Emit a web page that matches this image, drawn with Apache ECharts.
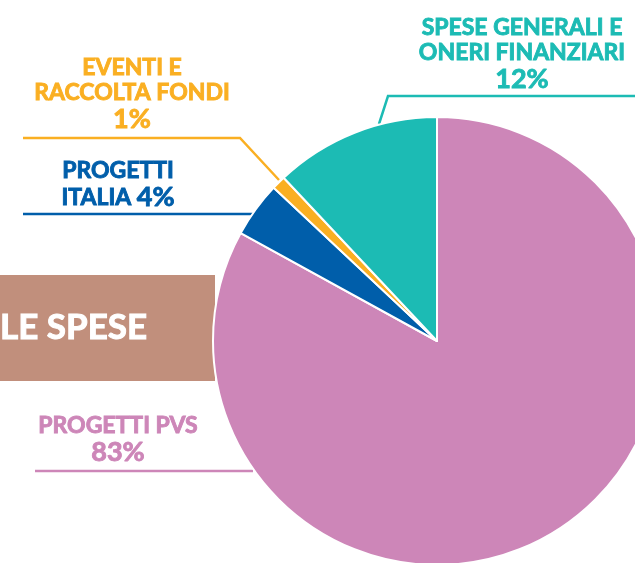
<!doctype html>
<html>
<head>
<meta charset="UTF-8">
<title>Le spese</title>
<script src="https://cdn.jsdelivr.net/npm/echarts@6/dist/echarts.min.js"></script>
<style>
	html, body { margin: 0; padding: 0; background: #fff; }
	#main { width: 635px; height: 563px; }
</style>
</head>
<body>
<div id="main"></div>
<script>
	// voci di spesa, in senso orario dalle ore 12
	var categorie = ['PROGETTI PVS', 'PROGETTI\nITALIA', 'EVENTI E\nRACCOLTA FONDI', 'SPESE GENERALI E\nONERI FINANZIARI'];
	var percentuali = [83, 4, 1, 12];
	var colori = ['#CD86B8', '#005EAA', '#FAAF22', '#1CBBB4'];

	// posizione delle etichette e delle linee guida
	var posEtichette = [[118, 440], [118, 185], [132, 94], [522, 54]];
	var lineeGuida = [
		[[253, 471], [253, 471], [35, 471]],
		[[253, 214], [253, 214], [23, 214]],
		[[279, 180], [240, 138], [23, 138]],
		[[379, 124], [388, 96], [635, 96]]
	];

	var dati = [];
	for (var i = 0; i < categorie.length; i++) {
		dati.push({
			name: categorie[i],
			value: percentuali[i],
			itemStyle: { color: colori[i] },
			label: { color: colori[i], textBorderColor: colori[i] },
			labelLine: { lineStyle: { color: colori[i] } }
		});
	}

	var myChart = echarts.init(document.getElementById('main'));
	var option = {
		animation: false,
		graphic: [
			{ type: 'rect', z: 0, shape: { x: 0, y: 275, width: 215, height: 106 }, style: { fill: '#C18F7C' } },
			{ type: 'text', z: 1, x: 0, y: 328, style: { text: 'LE SPESE', fill: '#fff', stroke: '#fff', lineWidth: 1, font: 'bold 35px Lato', verticalAlign: 'middle' } }
		],
		series: [{
			type: 'pie',
			z: 5,
			center: [437, 341],
			radius: 224,
			startAngle: 90,
			clockwise: true,
			itemStyle: { borderColor: '#fff', borderWidth: 2 },
			label: {
				show: true,
				overflow: 'none',
				fontFamily: 'Lato',
				fontWeight: 'bold',
				textBorderWidth: 0.9,
				align: 'center',
				formatter: function (p) {
					var righe = p.name.split('\n');
					var s = '';
					for (var k = 0; k < righe.length; k++) {
						if (k > 0) s += '\n';
						s += '{t|' + righe[k] + '}';
					}
					if (p.dataIndex == 1) return s + '{t| }{p|' + p.value + '%}';
					return s + '\n{p|' + p.value + '%}';
				},
				rich: {
					t: { fontFamily: 'Lato', fontWeight: 'bold', fontSize: 23, lineHeight: 25, align: 'center' },
					p: { fontFamily: 'Lato', fontWeight: 'bold', fontSize: 27, lineHeight: 28, align: 'center' }
				}
			},
			labelLine: { show: true, lineStyle: { width: 2.5 } },
			labelLayout: function (params) {
				var i = params.dataIndex;
				return {
					x: posEtichette[i][0],
					y: posEtichette[i][1],
					align: 'center',
					verticalAlign: 'middle',
					labelLinePoints: lineeGuida[i]
				};
			},
			data: dati
		}]
	};
	myChart.setOption(option);
</script>
</body>
</html>
